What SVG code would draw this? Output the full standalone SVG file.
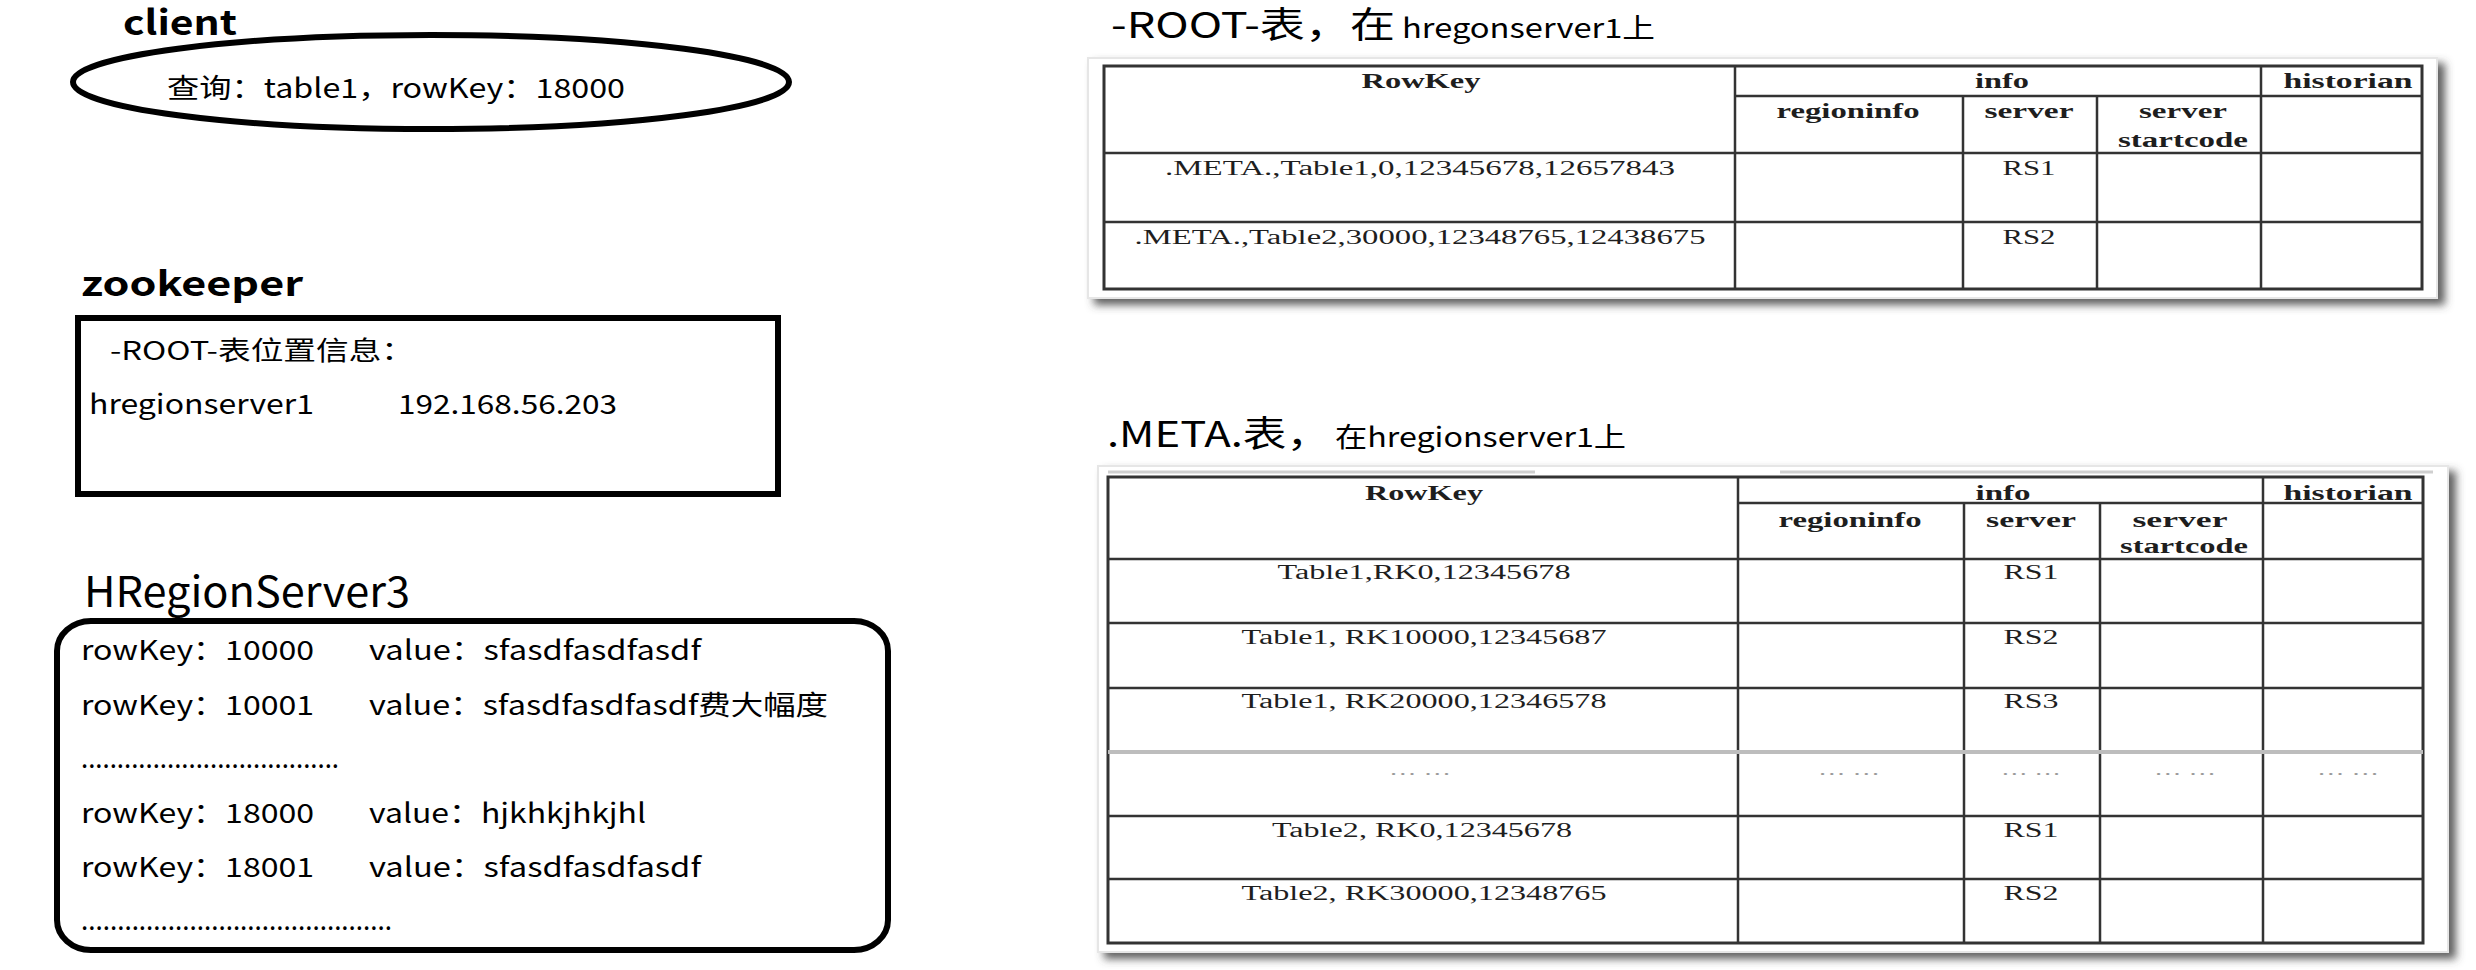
<svg xmlns="http://www.w3.org/2000/svg" width="2476" height="970" viewBox="0 0 2476 970">
<style>
.sans{font-family:"Noto Sans CJK SC","Liberation Sans",sans-serif;fill:#000}
.b{font-weight:bold}
.t27{font-size:27px}
.serif{font-family:"Liberation Serif","Times New Roman",serif;font-size:20px;fill:#1e1e1e}
.hd{font-weight:bold}
.dots{font-family:"Liberation Serif",serif;font-size:16px;fill:#9a9a9a}
.heavy{fill:none;stroke:#000;stroke-width:6}
.grid{stroke:#333;stroke-width:2.5;fill:none}
.outer{stroke:#333;stroke-width:3;fill:none}
.frame{fill:#fff;stroke:#e6e6e6;stroke-width:2}
</style>
<defs>
<filter id="shadow" x="-5%" y="-10%" width="115%" height="125%">
<feDropShadow dx="7" dy="6" stdDeviation="4" flood-color="#444" flood-opacity="0.85"/>
</filter>
</defs>
<rect width="2476" height="970" fill="#fff"/>

<g id="client">
<text class="sans b" x="123" y="35" font-size="34" textLength="114" lengthAdjust="spacingAndGlyphs">client</text>
<ellipse class="heavy" cx="431" cy="82" rx="358" ry="47"/>
<text class="sans t27" x="167" y="98" textLength="458" lengthAdjust="spacingAndGlyphs">查询：table1，rowKey：18000</text>
</g>

<g id="zookeeper">
<text class="sans b" x="81" y="296" font-size="34" textLength="222" lengthAdjust="spacingAndGlyphs">zookeeper</text>
<rect class="heavy" x="78" y="318" width="700" height="176"/>
<text class="sans" x="110" y="360" font-size="26" textLength="304" lengthAdjust="spacingAndGlyphs">-ROOT-表位置信息：</text>
<text class="sans t27" x="89" y="414" textLength="225" lengthAdjust="spacingAndGlyphs">hregionserver1</text>
<text class="sans t27" x="398" y="414" textLength="219" lengthAdjust="spacingAndGlyphs">192.168.56.203</text>
</g>

<g id="hregionserver3">
<text class="sans" x="84" y="607" font-size="42" textLength="326" lengthAdjust="spacingAndGlyphs">HRegionServer3</text>
<rect class="heavy" x="57" y="621" width="831" height="329" rx="34" ry="30"/>
<text class="sans t27" x="81" y="660" textLength="233" lengthAdjust="spacingAndGlyphs">rowKey：10000</text>
<text class="sans t27" x="369" y="660" textLength="332" lengthAdjust="spacingAndGlyphs">value：sfasdfasdfasdf</text>
<text class="sans t27" x="81" y="715" textLength="233" lengthAdjust="spacingAndGlyphs">rowKey：10001</text>
<text class="sans t27" x="369" y="715" textLength="459" lengthAdjust="spacingAndGlyphs">value：sfasdfasdfasdf费大幅度</text>
<text class="sans t27" x="81" y="768" textLength="258" lengthAdjust="spacingAndGlyphs">....................................</text>
<text class="sans t27" x="81" y="823" textLength="233" lengthAdjust="spacingAndGlyphs">rowKey：18000</text>
<text class="sans t27" x="369" y="823" textLength="277" lengthAdjust="spacingAndGlyphs">value：hjkhkjhkjhl</text>
<text class="sans t27" x="81" y="877" textLength="233" lengthAdjust="spacingAndGlyphs">rowKey：18001</text>
<text class="sans t27" x="369" y="877" textLength="332" lengthAdjust="spacingAndGlyphs">value：sfasdfasdfasdf</text>
<text class="sans t27" x="81" y="930" textLength="311" lengthAdjust="spacingAndGlyphs">...........................................</text>
</g>

<g id="root-table">
<text class="sans" x="1111" y="38" font-size="36" textLength="284" lengthAdjust="spacingAndGlyphs">-ROOT-表，在</text>
<text class="sans" x="1402" y="38" font-size="27" textLength="253" lengthAdjust="spacingAndGlyphs">hregonserver1上</text>
<rect class="frame" x="1088" y="58" width="1349" height="240" filter="url(#shadow)"/>
<rect class="outer" x="1104" y="66" width="1318" height="223"/>
<path class="grid" d="M1735 66V289M1963 96V289M2097 96V289M2261 66V289M1735 96H2422M1104 153H2422M1104 222H2422"/>
<text class="serif hd" x="1421" y="88" text-anchor="middle" textLength="119" lengthAdjust="spacingAndGlyphs">RowKey</text>
<text class="serif hd" x="2002" y="88" text-anchor="middle" textLength="54" lengthAdjust="spacingAndGlyphs">info</text>
<text class="serif hd" x="2348" y="88" text-anchor="middle" textLength="129" lengthAdjust="spacingAndGlyphs">historian</text>
<text class="serif hd" x="1848" y="118" text-anchor="middle" textLength="143" lengthAdjust="spacingAndGlyphs">regioninfo</text>
<text class="serif hd" x="2029" y="118" text-anchor="middle" textLength="89" lengthAdjust="spacingAndGlyphs">server</text>
<text class="serif hd" x="2183" y="118" text-anchor="middle" textLength="88" lengthAdjust="spacingAndGlyphs">server</text>
<text class="serif hd" x="2183" y="147" text-anchor="middle" textLength="130" lengthAdjust="spacingAndGlyphs">startcode</text>
<text class="serif" x="1420" y="175" text-anchor="middle" textLength="510" lengthAdjust="spacingAndGlyphs">.META.,Table1,0,12345678,12657843</text>
<text class="serif" x="2029" y="175" text-anchor="middle" textLength="53" lengthAdjust="spacingAndGlyphs">RS1</text>
<text class="serif" x="1420" y="244" text-anchor="middle" textLength="571" lengthAdjust="spacingAndGlyphs">.META.,Table2,30000,12348765,12438675</text>
<text class="serif" x="2029" y="244" text-anchor="middle" textLength="53" lengthAdjust="spacingAndGlyphs">RS2</text>
</g>

<g id="meta-table">
<text class="sans" x="1107" y="447" font-size="36" textLength="223" lengthAdjust="spacingAndGlyphs">.META.表，</text>
<text class="sans" x="1335" y="447" font-size="27" textLength="291" lengthAdjust="spacingAndGlyphs">在hregionserver1上</text>
<rect class="frame" x="1098" y="466" width="1350" height="486" filter="url(#shadow)"/>
<path d="M1108 472H1535M1780 472H2433" stroke="#cfcfcf" stroke-width="3" fill="none"/>
<rect class="outer" x="1108" y="477" width="1315" height="466"/>
<path class="grid" d="M1738 477V943M1964 503V943M2100 503V943M2263 477V943M1738 503H2423M1108 559H2423M1108 623H2423M1108 688H2423M1108 816H2423M1108 879H2423"/>
<path d="M1108 752H2423" stroke="#bdbdbd" stroke-width="4" fill="none"/>
<text class="serif hd" x="1424" y="500" text-anchor="middle" textLength="118" lengthAdjust="spacingAndGlyphs">RowKey</text>
<text class="serif hd" x="2003" y="500" text-anchor="middle" textLength="55" lengthAdjust="spacingAndGlyphs">info</text>
<text class="serif hd" x="2348" y="500" text-anchor="middle" textLength="129" lengthAdjust="spacingAndGlyphs">historian</text>
<text class="serif hd" x="1850" y="527" text-anchor="middle" textLength="143" lengthAdjust="spacingAndGlyphs">regioninfo</text>
<text class="serif hd" x="2031" y="527" text-anchor="middle" textLength="90" lengthAdjust="spacingAndGlyphs">server</text>
<text class="serif hd" x="2180" y="527" text-anchor="middle" textLength="95" lengthAdjust="spacingAndGlyphs">server</text>
<text class="serif hd" x="2184" y="553" text-anchor="middle" textLength="128" lengthAdjust="spacingAndGlyphs">startcode</text>
<text class="serif" x="1424" y="579" text-anchor="middle" textLength="293" lengthAdjust="spacingAndGlyphs">Table1,RK0,12345678</text>
<text class="serif" x="2031" y="579" text-anchor="middle" textLength="55" lengthAdjust="spacingAndGlyphs">RS1</text>
<text class="serif" x="1424" y="644" text-anchor="middle" textLength="365" lengthAdjust="spacingAndGlyphs">Table1, RK10000,12345687</text>
<text class="serif" x="2031" y="644" text-anchor="middle" textLength="55" lengthAdjust="spacingAndGlyphs">RS2</text>
<text class="serif" x="1424" y="708" text-anchor="middle" textLength="365" lengthAdjust="spacingAndGlyphs">Table1, RK20000,12346578</text>
<text class="serif" x="2031" y="708" text-anchor="middle" textLength="55" lengthAdjust="spacingAndGlyphs">RS3</text>
<text class="dots" x="1420" y="775" text-anchor="middle" textLength="62" lengthAdjust="spacingAndGlyphs">… …</text>
<text class="dots" x="1849" y="775" text-anchor="middle" textLength="62" lengthAdjust="spacingAndGlyphs">… …</text>
<text class="dots" x="2031" y="775" text-anchor="middle" textLength="60" lengthAdjust="spacingAndGlyphs">… …</text>
<text class="dots" x="2185" y="775" text-anchor="middle" textLength="62" lengthAdjust="spacingAndGlyphs">… …</text>
<text class="dots" x="2348" y="775" text-anchor="middle" textLength="62" lengthAdjust="spacingAndGlyphs">… …</text>
<text class="serif" x="1422" y="837" text-anchor="middle" textLength="300" lengthAdjust="spacingAndGlyphs">Table2, RK0,12345678</text>
<text class="serif" x="2031" y="837" text-anchor="middle" textLength="55" lengthAdjust="spacingAndGlyphs">RS1</text>
<text class="serif" x="1424" y="900" text-anchor="middle" textLength="365" lengthAdjust="spacingAndGlyphs">Table2, RK30000,12348765</text>
<text class="serif" x="2031" y="900" text-anchor="middle" textLength="55" lengthAdjust="spacingAndGlyphs">RS2</text>
</g>

<g id="connectors"/>
</svg>
